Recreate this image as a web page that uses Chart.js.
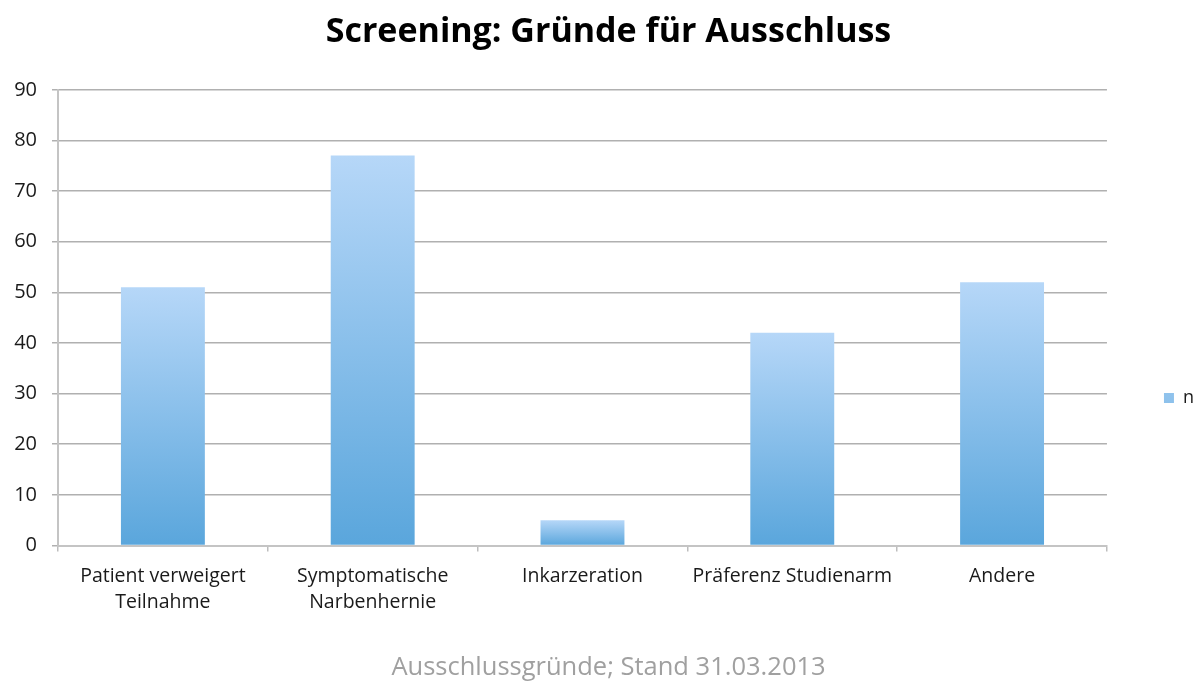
<!DOCTYPE html>
<html>
<head>
<meta charset="utf-8">
<script src="https://cdn.jsdelivr.net/npm/chart.js@4.4.0/dist/chart.umd.min.js"></script>
<style>
  html, body { margin: 0; padding: 0; background: #fff; }
  #wrap { width: 1201px; height: 681px; }
</style>
</head>
<body>
<div id="wrap"><canvas id="chart" width="1201" height="681"></canvas></div>
<script>
// Chart data
const categories = [
    ['Patient verweigert', 'Teilnahme'],
    ['Symptomatische', 'Narbenhernie'],
    'Inkarzeration',
    'Präferenz Studienarm',
    'Andere'
];
const seriesName = 'n';
const values = [51, 77, 5, 42, 52];
const yTicks = [0, 10, 20, 30, 40, 50, 60, 70, 80, 90];

const FONT = '"Open Sans", Lato, sans-serif';

// vertical gradient for each bar, light at top, darker at bottom
function barGradient(context) {
    const chart = context.chart;
    const yScale = chart.scales.y;
    if (!chart.chartArea || !yScale || context.raw === undefined) return '#8fc1ec';
    const top = yScale.getPixelForValue(context.raw);
    const bottom = yScale.getPixelForValue(0);
    const g = chart.ctx.createLinearGradient(0, top, 0, bottom);
    g.addColorStop(0, '#b6d7f8');
    g.addColorStop(1, '#5aa6dc');
    return g;
}

const ctx = document.getElementById('chart').getContext('2d');
const chart = new Chart(ctx, {
    type: 'bar',
    data: {
        labels: categories,
        datasets: [{
            label: seriesName,
            data: values,
            backgroundColor: barGradient,
            borderWidth: 0,
            barPercentage: 0.4,
            categoryPercentage: 1
        }]
    },
    options: {
        responsive: false,
        animation: false,
        layout: { padding: { left: 13, right: -3, top: 0, bottom: 0 } },
        plugins: {
            title: {
                display: true,
                text: 'Screening: Gründe für Ausschluss',
                color: '#000',
                font: { family: FONT, size: 34, weight: 'bold' },
                padding: { top: 12, bottom: 37 }
            },
            subtitle: {
                display: true,
                position: 'bottom',
                text: 'Ausschlussgründe; Stand 31.03.2013',
                color: '#a0a0a0',
                font: { family: FONT, size: 25.5, lineHeight: 1 },
                padding: { top: 37, bottom: 1 }
            },
            legend: {
                position: 'right',
                // empty legend title only pushes the key down a little
                title: { display: true, text: ' ', font: { size: 10 }, padding: { top: 103, bottom: 0 } },
                labels: {
                    boxWidth: 10,
                    boxHeight: 10,
                    padding: 57,
                    color: '#1a1a1a',
                    font: { family: FONT, size: 18 }
                }
            },
            tooltip: { enabled: false }
        },
        scales: {
            x: {
                afterFit: (axis) => { axis.height = 72; },
                grid: {
                    offset: true,
                    drawOnChartArea: false,
                    tickLength: 6,
                    color: '#bdbdbd',
                    lineWidth: 1.5
                },
                border: { color: '#c4c4c4', width: 2 },
                ticks: {
                    color: '#1a1a1a',
                    padding: 11,
                    maxRotation: 0,
                    font: { family: FONT, size: 19.5, lineHeight: 1.38 }
                }
            },
            y: {
                min: 0,
                max: 90,
                afterFit: (axis) => { axis.width = 45; },
                afterBuildTicks: (axis) => {
                    axis.ticks = yTicks.map(v => ({ value: v }));
                },
                grid: {
                    tickLength: 6,
                    color: '#b0b0b0',
                    lineWidth: 1.5
                },
                border: { color: '#c4c4c4', width: 2 },
                ticks: {
                    color: '#1a1a1a',
                    padding: 15,
                    font: { family: FONT, size: 20 }
                }
            }
        }
    }
});
</script>
</body>
</html>
